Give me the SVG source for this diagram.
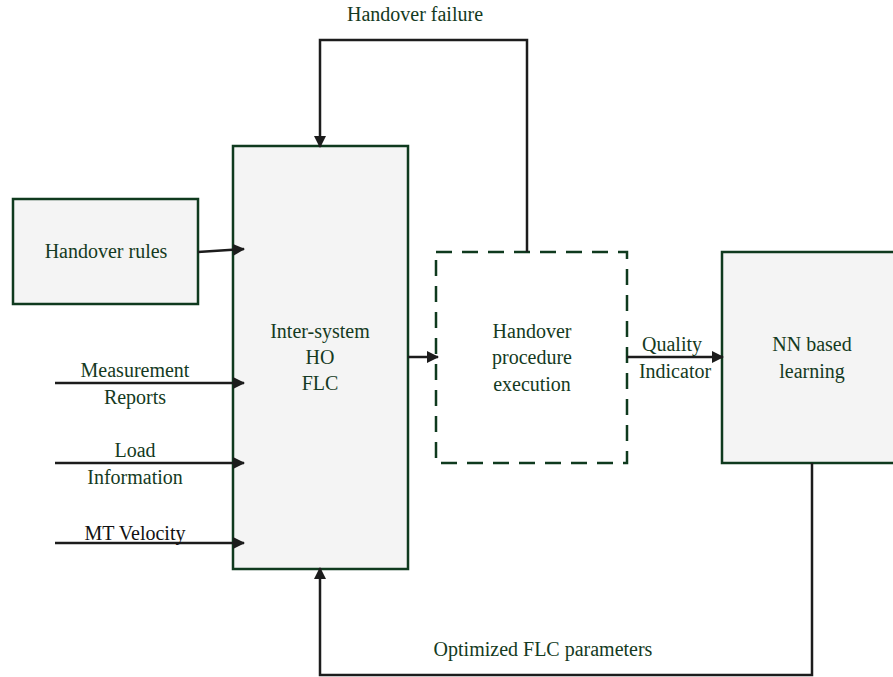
<svg xmlns="http://www.w3.org/2000/svg" width="893" height="677" viewBox="0 0 893 677" font-family="Liberation Serif, Times New Roman, DejaVu Serif, serif">
<style>
.box{fill:#f4f4f4;stroke:#0f3a1e;stroke-width:2.5}
.dash{fill:none;stroke:#0f3a1e;stroke-width:2.5;stroke-dasharray:16 10}
.con{fill:none;stroke:#1c1c1c;stroke-width:2.5}
.t{font-size:20px;fill:#143a22;text-anchor:middle}
</style>
<defs>
<marker id="ah" markerWidth="12" markerHeight="12" refX="11" refY="6" orient="auto" markerUnits="userSpaceOnUse" viewBox="0 0 12 12">
<path d="M0,0 L12,6 L0,12 Z" fill="#1c1c1c"/>
</marker>
</defs>
<rect width="893" height="677" fill="#ffffff"/>
<g id="handover-rules">
<rect class="box" x="13" y="199" width="185" height="105"/>
<text class="t" x="106" y="258">Handover rules</text>
</g>
<g id="flc">
<rect class="box" x="233" y="146" width="175" height="423"/>
<text class="t" x="320" y="338">Inter-system</text>
<text class="t" x="320" y="364">HO</text>
<text class="t" x="320" y="390">FLC</text>
</g>
<g id="execution">
<rect class="dash" x="436" y="252" width="191" height="211"/>
<text class="t" x="532" y="338">Handover</text>
<text class="t" x="532" y="364">procedure</text>
<text class="t" x="532" y="391">execution</text>
</g>
<g id="nn">
<rect class="box" x="722" y="252" width="175" height="211"/>
<text class="t" x="812" y="351">NN based</text>
<text class="t" x="812" y="378">learning</text>
</g>
<g id="connectors">
<path class="con" d="M198,252 L244,249" marker-end="url(#ah)"/>
<path class="con" d="M55,383 L244,383" marker-end="url(#ah)"/>
<path class="con" d="M55,463 L244,463" marker-end="url(#ah)"/>
<path class="con" d="M55,543 L244,543" marker-end="url(#ah)"/>
<path class="con" d="M408,357 L438,357" marker-end="url(#ah)"/>
<path class="con" d="M627,357 L723,357" marker-end="url(#ah)"/>
<path class="con" d="M527,252 L527,40 L320,40 L320,147" marker-end="url(#ah)"/>
<path class="con" d="M812,463 L812,675 L320,675 L320,568" marker-end="url(#ah)"/>
</g>
<g id="labels">
<text class="t" x="415" y="21">Handover failure</text>
<text class="t" x="672" y="351">Quality</text>
<text class="t" x="675" y="378">Indicator</text>
<text class="t" x="135" y="377">Measurement</text>
<text class="t" x="135" y="404">Reports</text>
<text class="t" x="135" y="457">Load</text>
<text class="t" x="135" y="484">Information</text>
<text class="t" x="135" y="540" style="fill:#111">MT Velocity</text>
<text class="t" x="543" y="656">Optimized FLC parameters</text>
</g>
</svg>
